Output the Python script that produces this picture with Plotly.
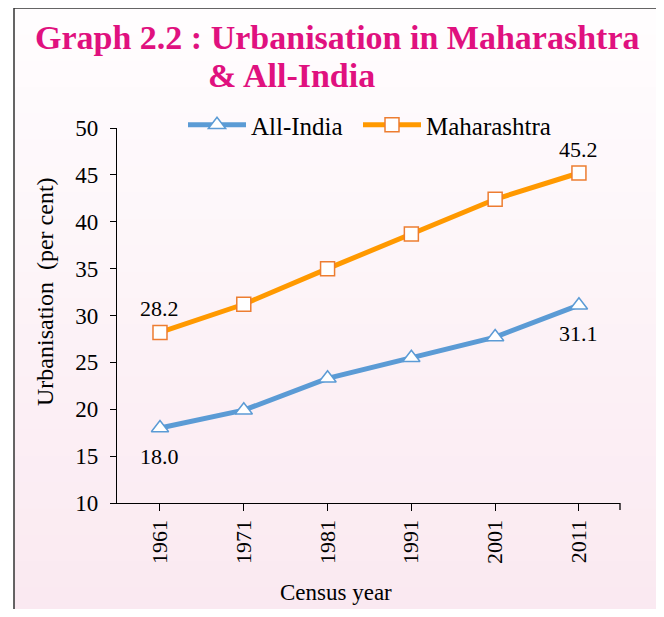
import plotly.graph_objects as go

years = ["1961", "1971", "1981", "1991", "2001", "2011"]
all_india = [18.0, 19.9, 23.3, 25.5, 27.7, 31.1]
maharashtra = [28.2, 31.2, 35.0, 38.7, 42.4, 45.2]
y_ticks = [10, 15, 20, 25, 30, 35, 40, 45, 50]
labelled = [0, 5]  # points that carry a value label

# the page body adds an 8px margin; lay the figure out in reference pixels minus that offset
OFF = 8
W, H = 664 - 2 * OFF, 617 - 2 * OFF
L = 117 - OFF
T = 128 - OFF
R = W - (620 - OFF)
B = H - (503 - OFF)
PW, PH = W - L - R, H - T - B


def px_x(p):
    return (p - OFF - L) / PW


def px_y(p):
    return 1 - (p - OFF - T) / PH


FONT = "Liberation Serif, Times New Roman, serif"

fig = go.Figure()
fig.add_trace(go.Scatter(
    x=years, y=all_india, name="All-India", mode="lines+markers",
    line=dict(color="#5B9BD5", width=5),
    marker=dict(symbol="triangle-up", size=15, color="white",
                line=dict(color="#5B9BD5", width=1.5)),
    cliponaxis=False, legendwidth=102,
))
fig.add_trace(go.Scatter(
    x=years, y=maharashtra, name="Maharashtra", mode="lines+markers",
    line=dict(color="#FF9900", width=5),
    marker=dict(symbol="square", size=14, color="white",
                line=dict(color="#ED7D31", width=1.5)),
    cliponaxis=False, legendwidth=140,
))

annotations = []
for i in labelled:
    # category axis: position by category index
    annotations.append(dict(x=i, y=maharashtra[i], xref="x", yref="y",
                            text=f"{maharashtra[i]:.1f}", showarrow=False, yshift=24,
                            font=dict(family=FONT, size=22, color="black")))
    annotations.append(dict(x=i, y=all_india[i], xref="x", yref="y",
                            text=f"{all_india[i]:.1f}", showarrow=False, yshift=-28,
                            font=dict(family=FONT, size=22, color="black")))

annotations += [
    dict(text="<b>Graph 2.2 : Urbanisation in Maharashtra</b>", xref="paper", yref="paper",
         x=px_x(337), y=px_y(37), xanchor="center", yanchor="middle", showarrow=False,
         font=dict(family=FONT, size=34, color="#E0117F")),
    dict(text="<b>& All-India</b>", xref="paper", yref="paper",
         x=px_x(206), y=px_y(75), xanchor="left", yanchor="middle", showarrow=False,
         font=dict(family=FONT, size=34, color="#E0117F")),
    dict(text="Urbanisation  (per cent)", xref="paper", yref="paper",
         x=px_x(45), y=px_y(292), xanchor="center", yanchor="middle", showarrow=False,
         textangle=-90, font=dict(family=FONT, size=24, color="black")),
    dict(text="Census year", xref="paper", yref="paper",
         x=px_x(336), y=px_y(592), xanchor="center", yanchor="middle", showarrow=False,
         font=dict(family=FONT, size=23, color="black")),
]

# background panel with a soft vertical gradient
shapes = []
n = 24
top_c = (255, 253, 254)
bot_c = (250, 232, 240)
y0p, y1p = 8, 640
for i in range(n):
    f = i / (n - 1)
    c = tuple(int(round(top_c[k] + (bot_c[k] - top_c[k]) * f)) for k in range(3))
    ya = y0p + (y1p - y0p) * i / n
    yb = y0p + (y1p - y0p) * (i + 1) / n
    shapes.append(dict(type="rect", xref="paper", yref="paper",
                       x0=px_x(14), x1=px_x(662), y0=px_y(ya), y1=px_y(yb + 1),
                       fillcolor="rgb(%d,%d,%d)" % c, line=dict(width=0),
                       layer="below"))
shapes.append(dict(type="rect", xref="paper", yref="paper",
                   x0=px_x(14), x1=px_x(662), y0=px_y(8), y1=px_y(640),
                   fillcolor="rgba(0,0,0,0)", line=dict(color="#333333", width=1.5),
                   layer="below"))
# end tick at the right of the x axis
shapes.append(dict(type="line", xref="paper", yref="paper",
                   x0=1, x1=1, y0=0, y1=px_y(510),
                   line=dict(color="black", width=1.3)))

fig.update_layout(
    width=W, height=H,
    margin=dict(l=L, r=R, t=T, b=B),
    paper_bgcolor="white",
    plot_bgcolor="rgba(0,0,0,0)",
    font=dict(family=FONT, color="black"),
    shapes=shapes,
    annotations=annotations,
    showlegend=True,
    legend=dict(orientation="h", x=px_x(183), y=px_y(125), xanchor="left", yanchor="middle",
                font=dict(family=FONT, size=25), bgcolor="rgba(0,0,0,0)",
                itemwidth=58, traceorder="normal"),
    xaxis=dict(
        type="category", range=[-0.513, 5.49],
        showline=True, linecolor="black", linewidth=1.3,
        ticks="outside", ticklen=7, tickcolor="black", tickwidth=1.3,
        tickangle=-90, tickfont=dict(family=FONT, size=22),
        showgrid=False, zeroline=False,
    ),
    yaxis=dict(
        range=[10, 50], tickvals=y_ticks,
        showline=True, linecolor="black", linewidth=1.3,
        ticks="outside", ticklen=6, tickcolor="black", tickwidth=1.3,
        tickfont=dict(family=FONT, size=23), ticklabelstandoff=7,
        showgrid=False, zeroline=False,
    ),
)

fig.write_html("out.html")
